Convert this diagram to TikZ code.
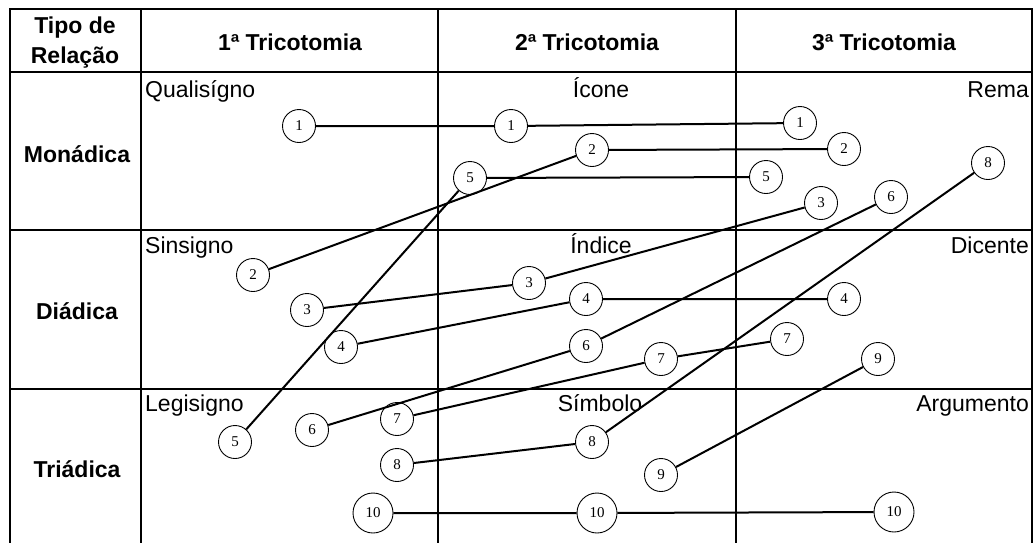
\documentclass[tikz,border=0pt]{standalone}
\usepackage{fontspec}
\setmainfont{Liberation Sans}
\newfontfamily\numfont{Liberation Serif}
\begin{document}
\begin{tikzpicture}[x=1pt,y=-1pt,
  thickgrid/.style={line width=2.2pt},
  thingrid/.style={line width=1.3pt},
  lbl/.style={inner sep=0pt,font=\fontsize{23}{28}\selectfont},
  hdr/.style={inner sep=0pt,font=\bfseries\fontsize{23}{28}\selectfont},
  num/.style={circle,draw,line width=0.9pt,minimum size=33pt,inner sep=0pt,fill=white,font=\numfont\fontsize{15}{15}\selectfont},
  numbig/.style={num,minimum size=40pt},
  link/.style={line width=2pt}]
\clip (0,0) rectangle (1034,542);
\fill[white] (0,0) rectangle (1034,542);
% grid
\draw[thingrid] (438,72) -- (438,560);
\draw[thingrid] (736,72) -- (736,560);
\draw[thingrid] (141,230) -- (1032,230);
\draw[thingrid] (141,389) -- (1032,389);
\draw[thickgrid] (10,230) -- (141,230);
\draw[thickgrid] (10,389) -- (141,389);
\draw[thickgrid] (438,9) -- (438,72);
\draw[thickgrid] (736,9) -- (736,72);
\draw[thickgrid] (10,72) -- (1032,72);
\draw[thickgrid] (141,9) -- (141,560);
\draw[thickgrid] (10,560) -- (10,9) -- (1032,9) -- (1032,560);
% headers
\node[hdr,anchor=base] (h0a) at (75,33) {Tipo de};
\node[hdr,anchor=base] (h0b) at (75,63) {Relação};
\node[hdr,anchor=base] (h1) at (290,50) {1ª Tricotomia};
\node[hdr,anchor=base] (h2) at (587,50) {2ª Tricotomia};
\node[hdr,anchor=base] (h3) at (884,50) {3ª Tricotomia};
\node[hdr,anchor=base] (r1) at (77,162) {Monádica};
\node[hdr,anchor=base] (r2) at (77,319) {Diádica};
\node[hdr,anchor=base] (r3) at (77,477) {Triádica};
% cell labels
\node[lbl,anchor=base west] (l11) at (145,97) {Qualisígno};
\node[lbl,anchor=base west] (l12) at (145,253) {Sinsigno};
\node[lbl,anchor=base west] (l13) at (145,411) {Legisigno};
\node[lbl,anchor=base] (l21) at (601,97) {Ícone};
\node[lbl,anchor=base] (l22) at (601,253) {Índice};
\node[lbl,anchor=base] (l23) at (600,411) {Símbolo};
\node[lbl,anchor=base east] (l31) at (1029,97) {Rema};
\node[lbl,anchor=base east] (l32) at (1029,253) {Dicente};
\node[lbl,anchor=base east] (l33) at (1029,411) {Argumento};
% circles column 1
\node[num] (a1) at (299,126) {1};
\node[num] (a2) at (253,275) {2};
\node[num] (a3) at (307,310) {3};
\node[num] (a4) at (341,347) {4};
\node[num] (a5) at (235,442) {5};
\node[num] (a6) at (312,430) {6};
\node[num] (a7) at (397,419) {7};
\node[num] (a8) at (397,465) {8};
\node[numbig] (a10) at (373,513) {10};
% column 2
\node[num] (b1) at (511,126) {1};
\node[num] (b2) at (592,150) {2};
\node[num] (b5) at (470,178) {5};
\node[num] (b3) at (529,283) {3};
\node[num] (b4) at (586,299) {4};
\node[num] (b6) at (586,346) {6};
\node[num] (b7) at (661,359) {7};
\node[num] (b8) at (592,442) {8};
\node[num] (b9) at (661,475) {9};
\node[numbig] (b10) at (597,513) {10};
% column 3
\node[num] (c1) at (800,123) {1};
\node[num] (c2) at (844,149) {2};
\node[num] (c5) at (766,177) {5};
\node[num] (c3) at (821,203) {3};
\node[num] (c6) at (891,197) {6};
\node[num] (c8) at (988,163) {8};
\node[num] (c4) at (844,299) {4};
\node[num] (c7) at (787,339) {7};
\node[num] (c9) at (878,359) {9};
\node[numbig] (c10) at (894,512) {10};
% connectors
\draw[link] (a1) -- (b1) -- (c1);
\draw[link] (a2) -- (b2) -- (c2);
\draw[link] (a3) -- (b3) -- (c3);
\draw[link] (a4) -- (b4) -- (c4);
\draw[link] (a5) -- (b5) -- (c5);
\draw[link] (a6) -- (b6) -- (c6);
\draw[link] (a7) -- (b7) -- (c7);
\draw[link] (a8) -- (b8) -- (c8);
\draw[link] (b9) -- (c9);
\draw[link] (a10) -- (b10) -- (c10);
\end{tikzpicture}
\end{document}
